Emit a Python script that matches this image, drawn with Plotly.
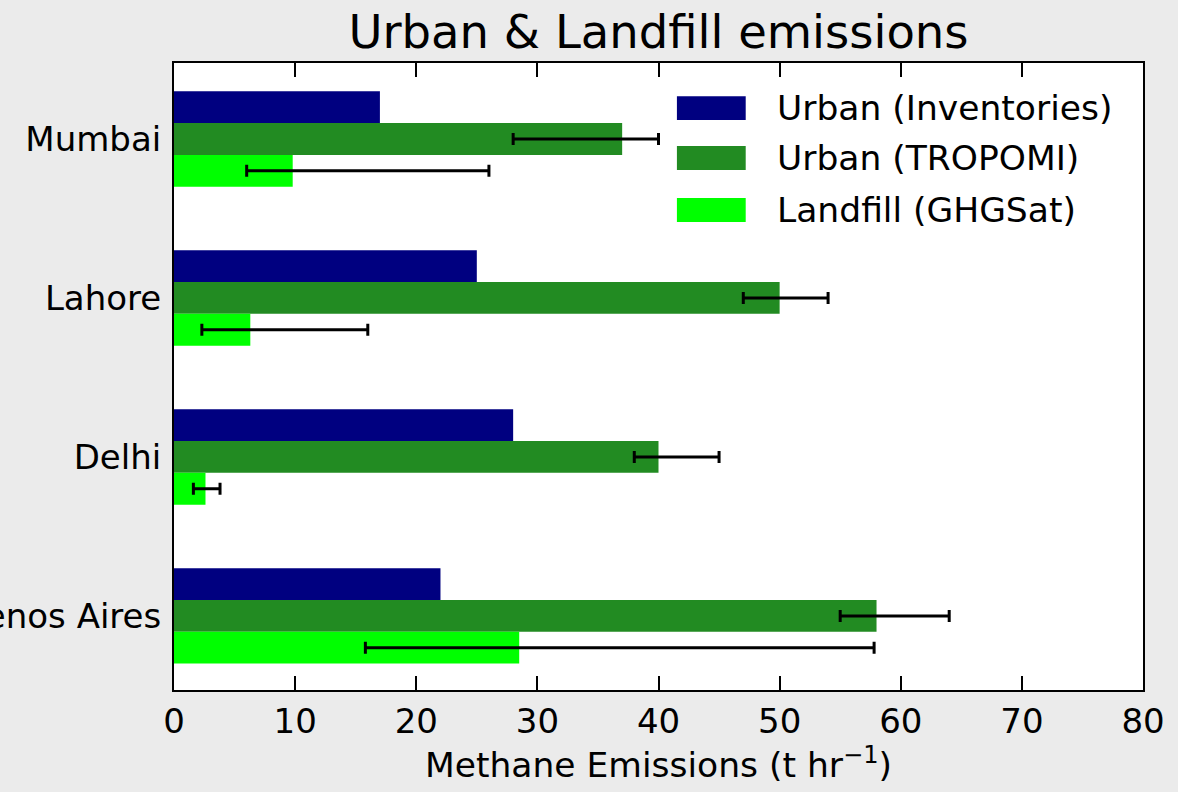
import plotly.graph_objects as go

cities = ["Mumbai", "Lahore", "Delhi", "Buenos Aires"]
series_names = ["Urban (Inventories)", "Urban (TROPOMI)", "Landfill (GHGSat)"]
urban_inv = [17, 25, 28, 22]
urban_trop = [37, 50, 40, 58]
trop_lo = [28, 47, 38, 55]
trop_hi = [40, 54, 45, 64]
landfill = [9.8, 6.3, 2.6, 28.5]
land_lo = [6.0, 2.3, 1.6, 15.8]
land_hi = [26.0, 16.0, 3.8, 57.8]
colors = ["#000080", "#228b22", "#00ff00"]
xticks = [0, 10, 20, 30, 40, 50, 60, 70, 80]

FONT = "DejaVu Sans"
FS = 34
ypos = list(range(len(cities)))

def err(vals, lo, hi):
    return dict(type="data", symmetric=False,
                array=[h - v for v, h in zip(vals, hi)],
                arrayminus=[v - l for v, l in zip(vals, lo)],
                color="black", thickness=3, width=6)

fig = go.Figure()
fig.add_trace(go.Bar(y=ypos, x=urban_inv, orientation="h", name=series_names[0],
                     marker=dict(color=colors[0], line=dict(width=0)), showlegend=False))
fig.add_trace(go.Bar(y=ypos, x=urban_trop, orientation="h", name=series_names[1],
                     marker=dict(color=colors[1], line=dict(width=0)),
                     error_x=err(urban_trop, trop_lo, trop_hi), showlegend=False))
fig.add_trace(go.Bar(y=ypos, x=landfill, orientation="h", name=series_names[2],
                     marker=dict(color=colors[2], line=dict(width=0)),
                     error_x=err(landfill, land_lo, land_hi), showlegend=False))

yr = [3.466, -0.478]
fig.update_layout(
    width=1178, height=792,
    paper_bgcolor="#ebebeb", plot_bgcolor="white",
    margin=dict(l=174, r=35, t=63, b=102, autoexpand=False),
    barmode="group", bargap=0.4, bargroupgap=0,
    font=dict(family=FONT, color="black", size=FS),
    title=dict(text="Urban & Landfill emissions", x=0.5, xanchor="center",
               xref="paper", y=0.96, yanchor="middle",
               font=dict(size=46.5, family=FONT)),
    xaxis=dict(range=[0, 80], tickvals=xticks, ticks="inside", ticklen=14, tickwidth=2,
               tickcolor="black", showline=True, linecolor="black", linewidth=2,
               mirror="ticks", showgrid=False, zeroline=False, automargin=False,
               tickfont=dict(size=FS),
               title=dict(text="Methane Emissions (t hr<sup>−1</sup>)", font=dict(size=34.5), standoff=10)),
    yaxis=dict(range=yr, tickvals=ypos, ticktext=cities, ticks="", showline=True,
               linecolor="black", linewidth=2, mirror=True, showgrid=False,
               zeroline=False, tickfont=dict(size=FS), ticklabelstandoff=4, automargin=False),
    yaxis2=dict(overlaying="y", side="right", range=yr, tickvals=ypos,
                ticks="inside", ticklen=12, tickwidth=2, tickcolor="black",
                showticklabels=False, showline=False, showgrid=False, zeroline=False,
                automargin=False),
)

# manual legend
ycent = [0.928, 0.8485, 0.7656]
for name, c, yc in zip(series_names, colors, ycent):
    fig.add_shape(type="rect", xref="x domain", yref="y domain",
                  x0=0.519, x1=0.590, y0=yc - 0.019, y1=yc + 0.019,
                  fillcolor=c, line=dict(width=0))
    fig.add_annotation(xref="x domain", yref="y domain", x=0.620, y=yc,
                       text=name, showarrow=False, xanchor="left", yanchor="middle",
                       font=dict(size=34.5, family=FONT, color="black"))

fig.write_html("out.html", config={"displayModeBar": False},
               post_script="document.body.style.margin='0';")
